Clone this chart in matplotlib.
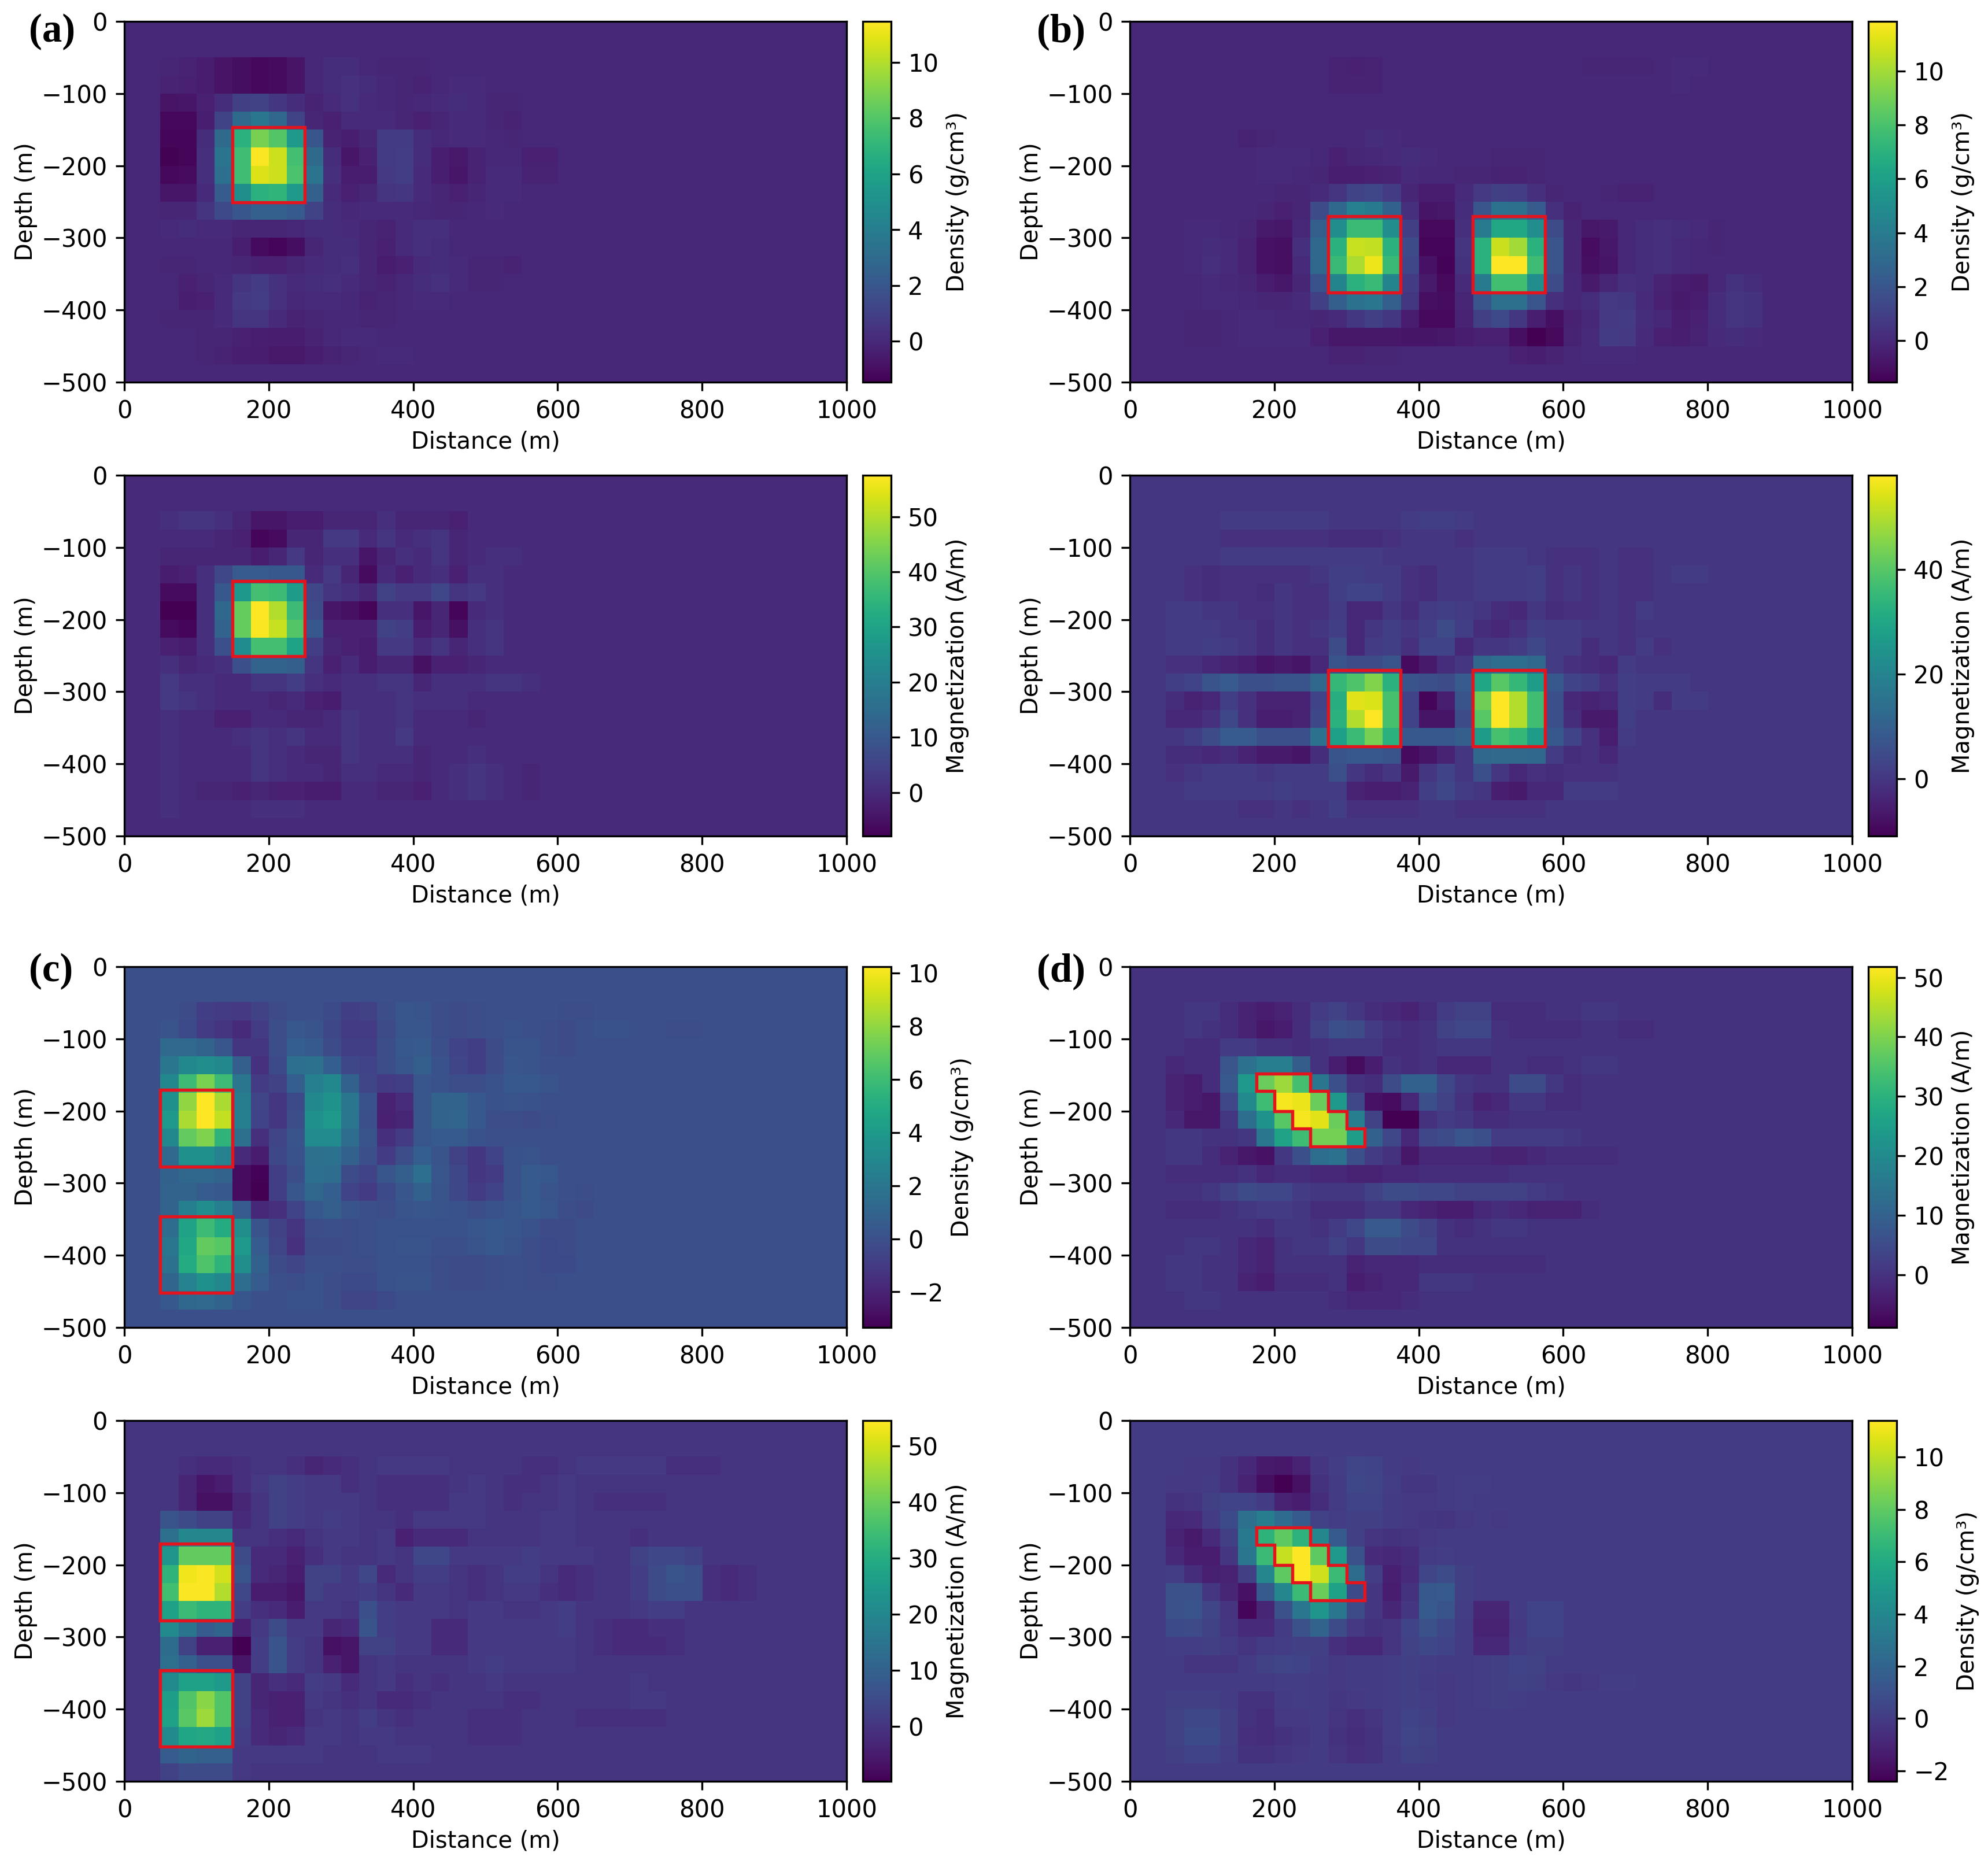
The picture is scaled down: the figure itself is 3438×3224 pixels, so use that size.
import numpy as np
import matplotlib
matplotlib.use('Agg')
import matplotlib.pyplot as plt

# cell values: rows are depth -50 to -500 m (25 m cells),
# each row starts at 50 m; cells not listed are background (0)
a_density = [
    [-.1,-.2,-.5,-.8,-1,-1.2,-1.1,-.8,0,.2,.2,0,-.1,-.1,-.1],
    [-.2,-.3,-.5,-.8,-1,-1.2,-1.1,-.8,0,.2,.4,.2,0,-.1,-.2,0,.1,.1],
    [-.8,-.7,-.3,.2,1,1.1,.6,.2,-.2,.1,.4,.1,0,-.1,0,.1,.2,.1,-.1,-.1],
    [-1.2,-1.2,-.4,1.2,3,3.6,2.8,1.2,-.1,-.3,.1,.1,.1,-.1,-.3,-.1,.1,.1,-.1,-.2],
    [-1.3,-1.3,.2,3,6.8,8.8,8,5.5,2,-.2,-.4,-.1,.8,.8,.2,0,.1,.1,0,-.1],
    [-1.4,-1.3,.3,3.5,7.5,11.4,10.5,7.6,3,.2,-.7,-.3,.8,.9,.2,-.4,-.6,-.2,0,0,-.3,-.3],
    [-1.2,-1.1,.3,3.3,7.5,10.8,10.5,7.8,3.5,.3,-.5,-.5,.7,.9,.1,-.4,-.7,-.2,.1,.1,-.2,-.2],
    [-.7,-.7,.1,2.3,5,6.8,7,5.5,2.5,.1,-.3,-.1,.5,.6,.1,-.1,-.3,-.1,.1,.1],
    [-.1,-.1,.5,1.4,2,2.5,2.5,2.2,1.2,.2,0,.1,.1,.1,0,-.1,-.1,0,.1],
    [.1,.2,.1,.1,-.1,-.1,-.1,0,.2,.2,.1,-.1,-.2,.1,.3,.3],
    [0,0,0,0,-.4,-1.1,-1.3,-1,-.1,.2,.2,-.1,-.3,.1,.3,.2],
    [-.1,-.1,0,0,-.1,-.3,-.3,-.1,.1,.2,.3,-.1,-.5,-.3,.1,.2,.1,-.1,-.1,-.2],
    [0,-.3,-.1,.1,.5,.8,.4,.1,.2,.3,.1,-.1,-.2,0,.2,.4,.1,-.1,-.1],
    [0,-.4,-.3,.1,.7,.9,.4,0,.1,.1,0,-.2,-.1,0,.1,.1],
    [-.1,-.1,-.1,.1,.5,.5,.1,-.2,-.1,0,0,-.1,-.1],
    [0,0,-.1,-.1,-.3,-.4,-.5,-.5,-.2,0,.1,.1],
    [0,0,-.1,-.2,-.4,-.5,-.6,-.6,-.4,-.2,-.1,0,.1,.1],
]
a_magnet = [
    [1,2,2,1,-1,-4,-4,-3,-3,-1,-1,-1,1,-1,-1,-1,-2],
    [0,0,0,-1,-2,-7,-6,-1,-1,3,3,0,2,0,1,2,-1],
    [-1,-1,-1,-1,-1,-3,-1,3,-1,1,1,-4,-1,1,0,2,-1,0,1,1],
    [-3,-2,1,6,11,11,10,10,0,3,-1,-6,0,-2,0,1,-2,1,1],
    [-6,-6,1,10,27,38,37,28,6,2,1,-1,5,3,3,6,2,3,1],
    [-8,-8,1,14,42,58,50,37,7,-4,-5,-7,1,1,-4,-1,-7,0,1],
    [-6,-7,1,13,42,57,52,40,10,-2,-2,-2,5,4,-3,-1,-5,1,2],
    [-2,-3,1,8,24,38,38,30,4,-1,-2,-3,3,3,0,2,-1,1,2],
    [1,-1,0,1,8,13,13,12,2,-2,0,-3,-1,-1,-5,-2,-2,-1],
    [3,1,1,0,0,2,2,4,1,0,1,1,2,2,-1,1,1,1,2,2,1],
    [3,2,1,0,0,0,-1,0,-2,-3,1,1,1,2,1,1,1],
    [1,0,0,-2,-2,0,0,-1,-1,0,2,1,1,2,0,0,0,-1],
    [1,0,0,0,1,2,1,2,0,0,2,1,1,3],
    [1,0,0,0,0,2,1,0,-1,-1,2,1,1,1,-1,0,0,1],
    [1,0,0,0,0,2,1,0,0,-1,1,1,0,0,-1,0,1,2,1,0,-1],
    [1,0,-1,-1,-2,-1,-2,-2,-3,-3,0,0,-1,-1,-2,0,1,2,1,0,-1],
    [1,0,0,0,0,1,1,1],
]
b_density = [
    [0,0,0,0,0,0,0,0,0,-.2,-.3,-.2,0,0,0,0,0,0,0,0,0,0,0,-.1,-.1,-.1,-.1,0,.1,.1],
    [0,0,0,0,0,0,0,0,0,-.2,-.2,-.2,0,0,0,0,0,0,0,0,0,0,0,0,0,0,0,0,.1],
    [],
    [],
    [0,0,0,0,-.2,-.1,0,0,0,0,0,.2,.1],
    [0,0,0,0,0,.1,.1,.1,0,-.3,-.1,0,.1,.2,.1,0,0,0,-.1,-.1,-.1],
    [0,0,0,0,0,.1,.1,0,-.1,-.4,-.4,-.3,-.2,.1,0,0,-.1,-.1,-.2,-.2,-.1],
    [0,0,0,0,0,0,-.1,-.1,.1,.5,1.2,1.3,.8,-.1,-.5,-.5,.1,.7,1,.9,.3,-.1,0,0,-.1,-.2,-.2],
    [0,0,0,0,0,-.1,-.3,-.1,1.5,3,4.3,4,2.6,.3,-.8,-.7,.2,2,3.5,3.4,2.3,.3,-.2],
    [0,.1,.1,0,-.1,-.6,-.7,0,2.5,5,7.6,7.6,5,1,-1.2,-1.2,.3,4,6.5,6.5,5,1.5,-.1,-.7,-.6,0,.2,.3,.2,.1,-.1],
    [0,.1,.2,.1,-.2,-.9,-1,.3,3,7,10.7,10.6,7,1.5,-1.3,-1.3,.5,7,10.8,10,7,2,-.1,-1.1,-.7,0,.2,.3,.1,0,-.1],
    [0,.1,.3,.1,-.2,-.9,-1,.1,3,7.5,10.2,11.5,7.5,1.3,-.9,-1.4,.4,7,11.8,11.8,7.7,2,-.1,-1,-.8,0,.2,.3,.1],
    [0,0,.1,0,-.1,-.5,-.7,-.1,1.8,4.5,7,7.5,4.5,.8,-.6,-1.2,.1,4,7.8,7.8,5,1.5,0,-.6,-.1,.3,.2,-.2,-.5,-.6,0,.4,.2],
    [0,0,.1,.1,0,-.1,-.1,.1,1,2.5,3.5,3.7,2.5,.6,-1,-1.1,-.1,2,3.4,3.4,2,.3,0,.2,.7,.6,.1,-.3,-.6,-.5,.2,.5,.4],
    [0,-.1,-.1,0,.1,.1,0,0,-.1,.1,.6,1,.6,-.5,-1.2,-1.2,-.2,1,1.4,.6,-.4,-1,-.3,0,.7,.8,.2,0,-.5,-.3,.2,.5,.4],
    [0,-.1,-.1,0,.1,.1,.1,.1,-.3,-.7,-.7,-.7,-.7,-.8,-.8,-.7,-.5,-.3,-.3,-1,-1.5,-1.2,-.2,.1,.8,.7,.1,-.3,-.4,-.2,.1,.2,.1],
    [0,0,0,0,0,0,0,0,0,-.2,-.2,-.1,-.1,0,0,0,0,0,0,-.3,-.4,-.2,0,.1,.1,.1],
]
b_magnet = [
    [0,0,0,1,1,1,1,1,1,0,0,0,0,1,2,2,1],
    [0,0,0,-1,-1,-1,-1,-1,-1,-2,-2,-2,-1,0,0,0,-1],
    [0,0,0,1,1,1,1,1,1,1,1,1,0,0,0,0,0,1,1,1,0,-1,-1,-1,0,-1,-1],
    [0,-1,-2,-1,-1,-1,-1,-1,0,2,2,1,1,-1,-2,0,0,1,1,1,2,-1,0,-1,0,-1,-1,0,1,1],
    [0,-1,-2,-1,-1,-2,0,-1,-1,2,3,3,1,-1,-2,0,0,1,1,1,2,-1,0,-1,0,-1,-1],
    [1,1,0,0,-1,-1,0,-1,-1,1,-3,-3,0,-2,1,2,1,0,-2,-3,0,-2,-1,-1,0,-1,1],
    [1,1,1,0,0,-2,0,-1,0,2,-3,0,2,0,2,5,2,-2,-3,-1,2,1,1,0,0,-1],
    [1,1,2,1,0,-2,0,-1,-1,5,-3,1,2,-1,3,3,-3,0,0,1,4,1,1,-2,0,-1,1,-1],
    [-1,-1,-3,-4,-5,-7,-6,-7,-3,7,5,5,7,-9,-6,-2,0,12,14,14,12,1,-1,-2,-3,1],
    [2,3,7,9,6,6,7,7,12,35,39,45,33,7,6,5,9,30,40,35,27,8,3,2,-1,2,1,1,1],
    [-2,-4,-3,2,-1,-4,-4,-4,3,32,55,54,38,3,-10,-5,7,43,58,50,37,6,-3,-4,-3,2,1,-2,1,1],
    [-3,-3,-1,4,-1,-5,-5,-4,4,33,50,58,38,3,-7,-7,5,40,58,50,37,6,-2,-6,-6,2],
    [0,2,5,9,9,6,6,6,15,28,36,44,33,8,8,8,10,27,38,35,27,8,3,-1,-5,1],
    [-2,-2,-3,-2,-4,-6,-6,-7,-2,7,8,8,7,-9,-7,-4,0,12,13,13,12,1,-2,-1,-3],
    [-1,0,1,1,1,0,1,1,1,6,0,-2,0,-6,0,3,0,6,0,-3,-1,-2,-1,-1,-1],
    [0,1,1,1,1,1,2,1,1,1,-4,-5,-5,-4,2,4,1,0,-5,-6,-3,-3,1,1,1],
    [0,0,0,0,-1,-1,0,-1,0,2,-1,-1,-1,-1,0,0,-1,-1,-1,-1,-1],
]
c_density = [
    [0,-.2,-.8,-1,-1.1,-.7,-.2,0,0,-.3,-.8,-.7,-.1,.3,.2,-.1,-.2,-.1,0,0,0,0,-.1,-.1],
    [.2,-.3,-1,-1.3,-1.7,-1,-.1,.4,.2,-.4,-1,-.9,-.2,.3,.3,-.1,-.2,-.1,0,.1,0,-.1,-.2,0,.1,.1,0,0,-.1,-.1],
    [1.3,1.3,1,.3,-1.3,-1.2,-.1,.7,.5,-.2,-.8,-.8,-.1,.4,.5,0,-.6,-.8,-.2,.2,.2,-.1,-.2],
    [2,3,3.3,3,.8,-1.4,-.3,1.6,1.8,.7,-.4,-.6,-.1,.3,.8,.1,-.5,-.8,-.2,.3,.2],
    [3,6,7.5,6,2,-.9,-.7,.7,2.5,3,.9,-.5,-1,-.8,.3,.1,-.1,-.1,.1,.4,.4,.2],
    [3.5,8,10.2,8.5,2.4,-.5,-1.2,-.3,3,3.6,2,.1,-2,-1.6,.3,1,1,.4,.1,.2,.1],
    [4,8.5,10.2,9,2.5,-.6,-1.2,-.1,3.5,4,2,0,-2.1,-1.9,.3,1,1.1,.4,-.1,-.1,-.2,-.1],
    [3,7,7.6,5.5,1.7,-1.5,-.5,.2,3.2,3.2,1.5,.2,-1.5,-.9,.3,.5,.5,.1],
    [1.3,3.5,3.5,2.7,-1.7,-2.3,-.4,.1,1.7,1.8,.9,0,-1,-.1,.7,.2,-.7,-1.2,-.6,.1,.2],
    [.9,1.2,1.2,1,-2.9,-3.2,-.8,-.1,1.6,1.5,-.2,-.6,.3,.8,1.6,.3,-.4,-1.2,-.9,.1,.5,.4],
    [1,1,.6,.4,-2.9,-3.3,-.8,.3,1.2,.7,-.6,-1,-.3,.3,.9,.2,-.4,-.9,-.6,.1,.5,.2,0,-.1],
    [1,2.5,3.3,2.5,.6,-1.8,-1.5,-.6,.4,.8,.2,0,-.1,.2,.3,.2,.1,-.1,.1,.3,.5,.3,-.1,-.2],
    [1.5,4.5,6,5,3.4,.2,-.7,-1.3,-.1,0,-.1,0,.1,.1,.1,.1,.1,.3,.4,.3,.1,-.2,-.2],
    [2,4.8,7,6.7,4,.6,-.5,-1.4,-.2,-.2,-.1,0,.1,.2,.2,0,0,.2,.4,.2,-.1,-.3,-.2],
    [1.8,5,6.5,5.5,3.4,.9,-.2,-.5,0,0,-.1,-.1,.1,.1,.1,-.1,-.2,-.2,-.1,0,-.1,-.3,-.3],
    [1.1,2.7,3.5,3,1.5,.6,0,-.1,.1,-.1,-.3,-.3,.1,.2,.2,-.1,-.2,-.2,-.1,0,-.1,-.1],
    [.4,1.2,1.3,1,.3,0,0,.1,.1,-.1,-.5,-.5,-.3],
]
c_magnet = [
    [0,-1,-2,-2,-1,0,0,-1,-3,-2,-1,0,1,1,1,1,0,0,0,0,-1,-1,0,1,1,1,1,1,-1,-1,-1],
    [0,-3,-6,-5,-1,1,3,2,1,1,-1,0,-1,-1,-1,-1,0,1,0,-1,-1,0,1],
    [0,-3,-7,-7,-3,0,3,2,1,1,1,0,-1,-1,-1,-1,1,1,0,-1,0,0,1,0,-1,-1,-1,-1],
    [7,5,3,3,-2,0,3,2,1,2,1,0,0,-1,1,1,1,1,0,0,0,1,1],
    [14,20,20,20,0,0,-1,-2,0,1,1,0,1,-4,-2,-2,-2,0,0,0,0,1,1,0,0,0,-1],
    [24,39,39,39,5,-2,-2,-4,-1,1,0,0,1,0,4,4,1,1,1,1,2,1,1,1,0,0,3,4,4,3],
    [32,53,54,50,7,-2,-3,-5,3,3,1,4,-2,0,2,2,0,-1,0,2,2,0,-2,-1,0,0,2,5,7,6,-1,-2,-1],
    [35,54,54,47,4,-5,-5,-6,3,1,1,2,0,-2,1,1,0,-1,0,1,1,-1,-2,-1,0,0,2,5,6,6,-1,-2,-1],
    [27,34,32,32,2,-1,-2,-5,1,1,0,6,2,1,1,1,0,1,1,0,0,1,2,0,0,0,1,2,2],
    [21,15,9,11,-4,1,5,1,1,-3,-2,7,2,1,1,-2,-2,1,1,1,1,1,2,0,-1,-2,-2,-1,-1],
    [13,3,-4,-4,-10,2,7,2,0,-7,-6,3,3,1,1,-2,-2,1,1,1,1,1,1,0,-1,-2,-2,-2,-1],
    [14,10,6,6,-6,2,7,2,0,-4,-6,0,1,0,0,0,0,1,2,1,1,1,1],
    [21,27,27,25,3,-3,-1,-2,2,1,-2,0,1,-1,0,-1,0,0,1,0,0,0,0,0,0,0,1],
    [26,37,43,37,3,-3,-4,-4,1,0,-1,0,-2,-2,-1,0,0,0,0,-1,-1,0,0,0,0,0,1,1],
    [27,38,45,37,3,-2,-4,-4,0,1,0,2,0,-1,0,0,0,-1,-1,-1,0,0,0,-1,-1,-1,-1,-1],
    [21,28,29,27,2,-2,-3,-2,1,1,0,1,1,0,0,0,0,-1,-1,-1],
    [9,11,10,10,1,1,1,1,1,0,0,0,1,1,1],
    [3,5,5,5,1],
]
d_magnet = [
    [0,1,1,-1,-3,-4,-3,-1,2,3,1,-1,-2,-3,-1,2,3,3,-1,-1,-1,0,0,1,1],
    [0,1,0,-1,-3,-5,-4,-1,3,6,5,2,0,-1,0,3,4,4,0,-1,-1,-1,-1,0,0,-1,-1],
    [0,-1,-1,2,2,0,0,-1,0,1,1,1,-1,-1,0,1,1,1],
    [-2,-1,-1,7,14,17,17,9,0,-4,-7,-4,0,-1,0,-2,-2,-2,0,0,-1,-1,0,1,1],
    [-3,-4,-1,8,24,38,43,34,15,6,0,-1,5,10,10,4,1,0,0,5,5,1,-1],
    [-3,-4,-5,4,20,33,51,50,38,24,4,-6,-7,-2,6,3,0,-3,-2,1,1,-1,-1],
    [-2,-5,-5,1,13,22,36,51,49,38,17,3,-9,-9,0,2,1,-1,-1],
    [1,1,0,0,1,15,26,33,39,39,25,10,4,-2,4,5,7,6,2,2,2,2,1],
    [1,1,-1,-3,-5,-6,1,6,13,14,6,2,0,-5,-2,-2,-2,-2,-3,-3,-2,-1,-1,-1,-1],
    [-1,-1,-1,-1,0,-2,-1,-1,-2,-2,-3,-3,-2,-2,-1,-1,-1,-1,-1],
    [0,0,1,3,5,4,4,2,1,1,1,3,5,5,4,4,3,3,3,3,2,1],
    [-1,-1,-1,0,1,2,2,1,-1,-1,-1,1,1,-2,-3,-4,-4,-2,-1,-2,-3,-3,-3,-1],
    [0,0,0,0,0,-1,1,1,0,2,4,8,8,5,3,0,-1,0,1,1],
    [0,1,1,0,-2,-3,0,1,1,3,1,5,5,4,4],
    [1,1,0,0,-2,-3,0,0,0,0,-3,-2,-2,-2,-1,-1,-1,-1,-1,-1,-1],
    [1,1,0,0,-3,-4,-1,-1,-1,0,-4,-3,-2,-2,1,1,1],
    [0,1,1,0,0,0,0,0,0,-1,-2,-2,-2,-1],
]
d_density = [
    [0,-.1,-.1,-.4,-.8,-1.4,-1.5,-1,-.2,.1,.5,.4,0,-.1],
    [-.1,-.1,0,-.4,-1,-1.9,-2.4,-1.8,-.4,0,.6,.5,.1,-.2,-.2,0,.1,.1],
    [-.4,-.3,.2,.4,.4,0,-1,-1.3,-.6,0,.4,.4,0,-.1,-.1,0,.1],
    [-.8,-.7,0,.7,2.7,3.4,2.4,1.5,.3,.1,.2,.2,0,-.1,-.2,-.3,-.1,0,-.1],
    [-1,-1.4,-.7,.2,3.2,6.5,8,6.5,4,1.5,.2,-.3,-.4,-.3,-.1],
    [-.8,-1.3,-1.3,-.2,3,7,10.2,11.4,8,5,1,-.7,-.8,-.6,0,.1],
    [.1,-.6,-1.2,-1.1,.2,4,8,11.4,10.4,7,2.5,.1,-1.2,-.7,.5,.8,.2],
    [1,1,-.2,-.9,-1.7,1.5,4,7,8.3,5.5,.7,-.2,-1.3,-.4,1.4,1.5,.2],
    [1,1.2,.5,-.3,-2.2,-.9,1,3,4.8,3,.8,-.2,-.9,-.2,1.5,1.2,.1,-.9,-.9,0,.4,.4],
    [.7,.8,.3,-.2,-.7,-.7,0,1,2,.8,-.1,-.4,-.3,.4,1,.6,0,-1,-1.1,-.1,.4,.4],
    [.1,.1,.2,0,-.3,0,.1,.2,.2,-.5,-.8,-.8,-.3,.3,.6,.4,0,-.8,-.8,0,.2,.2],
    [0,-.3,-.3,-.3,0,.3,.5,.4,.1,-.1,0,0,.1,.2,.1,0,0,.1,.2,.4,.3],
    [0,0,0,0,0,0,.1,.1,0,-.1,0,0,.1,.2,0,-.1,0,.1,.2,.3,.2,-.1,-.2,-.1,.1,.1],
    [.2,.2,.2,0,-.4,-.4,0,.1,0,-.2,-.1,0,.1,.2,.1,-.1,0,.1,.2,.1],
    [.3,.6,.6,.2,-.4,-.6,-.1,-.1,0,-.3,-.5,-.3,.1,.4,.2,-.1],
    [.3,.7,.7,.2,-.5,-.6,-.4,-.2,0,-.4,-.6,-.4,.1,.5,.3],
    [.2,.4,.4,.1,-.4,-.4,-.2,-.1,0,-.3,-.5,-.4,0,.3,.2],
]

# colour ranges from the colorbars
a_density_range = (-1.47, 11.47)
a_magnet_range = (-7.9, 57.5)
b_density_range = (-1.55, 11.85)
b_magnet_range = (-10.9, 58)
c_density_range = (-3.34, 10.25)
c_magnet_range = (-9.8, 54.5)
d_magnet_range = (-8.9, 51.8)
d_density_range = (-2.4, 11.4)

density_label = 'Density (g/cm³)'
magnet_label = 'Magnetization (A/m)'
ticks_density = [0, 2, 4, 6, 8, 10]
ticks_density2 = [-2, 0, 2, 4, 6, 8, 10]
ticks_magnet = [0, 10, 20, 30, 40, 50]
ticks_magnet2 = [0, 20, 40]

# true body outlines (distance, depth)
box_a = [[(150, -147), (250, -147), (250, -251), (150, -251)]]
box_b = [[(275, -270), (375, -270), (375, -376), (275, -376)],
         [(475, -270), (575, -270), (575, -376), (475, -376)]]
box_c = [[(50, -171), (150, -171), (150, -277), (50, -277)],
         [(50, -346), (150, -346), (150, -452), (50, -452)]]
box_d = [[(175, -148), (250, -148), (250, -172), (275, -172), (275, -200), (300, -200),
          (300, -224), (325, -224), (325, -249), (250, -249), (250, -224), (225, -224),
          (225, -200), (200, -200), (200, -172), (175, -172)]]

W, H = 3438, 3224


def make_grid(rows):
    grid = np.zeros((20, 40))
    for j, row in enumerate(rows):
        grid[j + 2, 2:2 + len(row)] = row
    return grid


def draw_panel(x0, y0, rows, vrange, label, ticks, boxes):
    """x0, y0: left and top of the axes in pixels"""
    ax = fig.add_axes([x0 / W, 1 - (y0 + 624) / H, 1249 / W, 624 / H])
    im = ax.imshow(make_grid(rows), extent=[0, 1000, -500, 0], aspect='auto', cmap='viridis',
                   interpolation='nearest', vmin=vrange[0], vmax=vrange[1])
    for box in boxes:
        ax.add_patch(plt.Polygon(box, closed=True, fill=False, edgecolor='#e4141e', linewidth=1.3))
    ax.set_xlabel('Distance (m)', fontsize=9.6, labelpad=3)
    ax.set_ylabel('Depth (m)', fontsize=9.6, labelpad=1.5)
    cax = fig.add_axes([(x0 + 1277) / W, 1 - (y0 + 624) / H, 49 / W, 624 / H])
    cbar = fig.colorbar(im, cax=cax, ticks=ticks)
    cbar.set_label(label, fontsize=9.6, labelpad=3)


fig = plt.figure(figsize=(W / 300, H / 300), dpi=300)

draw_panel(215, 37, a_density, a_density_range, density_label, ticks_density, box_a)
draw_panel(215, 822, a_magnet, a_magnet_range, magnet_label, ticks_magnet, box_a)
draw_panel(1954, 37, b_density, b_density_range, density_label, ticks_density, box_b)
draw_panel(1954, 822, b_magnet, b_magnet_range, magnet_label, ticks_magnet2, box_b)
draw_panel(215, 1672, c_density, c_density_range, density_label, ticks_density2, box_c)
draw_panel(215, 2457, c_magnet, c_magnet_range, magnet_label, ticks_magnet, box_c)
draw_panel(1954, 1672, d_magnet, d_magnet_range, magnet_label, ticks_magnet, box_d)
draw_panel(1954, 2457, d_density, d_density_range, density_label, ticks_density2, box_d)

# panel letters
for letter, px, py in [('(a)', 50, 55), ('(b)', 1793, 55), ('(c)', 50, 1680), ('(d)', 1793, 1680)]:
    fig.text(px / W, 1 - py / H, letter, family='Liberation Serif', fontweight='bold',
             fontsize=16.5, va='center', ha='left')

fig.savefig('out.png', dpi=300)
